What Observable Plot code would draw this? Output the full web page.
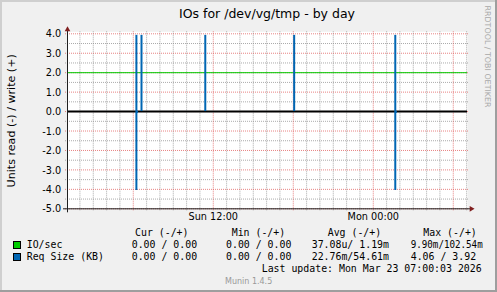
<!DOCTYPE html>
<html><head><meta charset="utf-8">
<script src="https://cdn.jsdelivr.net/npm/d3@7"></script>
<script src="https://cdn.jsdelivr.net/npm/@observablehq/plot@0.6"></script>
<style>
html,body{margin:0;padding:0;background:#F0F0F0}
#wrap{position:relative;width:497px;height:292px;background:#F0F0F0;overflow:hidden}
#wrap > svg{position:absolute;left:0;top:0}
</style></head><body><div id="wrap"></div>
<script>
// ---- data ----
const title = "IOs for /dev/vg/tmp - by day";
const yAxisLabel = "Units read (-) / write (+)";
const timeStart = "2026-03-22T01:04:00Z";
const timeEnd = "2026-03-23T07:04:00Z";
const yTicks = [-5, -4, -3, -2, -1, 0, 1, 2, 3, 4];
const xLabelTimes = ["2026-03-22T12:00:00Z", "2026-03-23T00:00:00Z"];
const xLabelTexts = ["Sun 12:00", "Mon 00:00"];
const writeTimes = ["2026-03-22T06:14:00Z", "2026-03-22T06:37:00Z", "2026-03-22T11:24:00Z", "2026-03-22T18:04:00Z", "2026-03-23T01:39:00Z"];
const reqSizeWrite = [3.92, 3.92, 3.92, 3.92, 3.92];
const readTimes = ["2026-03-22T06:14:00Z", "2026-03-22T06:16:30Z", "2026-03-23T01:39:00Z", "2026-03-23T01:41:30Z"];
const reqSizeRead = [4.06, 0.1, 4.06, 0.1];
const ioLevel = [2.0];
const seriesNames = ["IO/sec", "Req Size (KB)"];
const seriesColors = ["#00CC00", "#0066B3"];
const colHeaders = ["Cur (-/+)", "Min (-/+)", "Avg (-/+)", "Max (-/+)"];
const ioValues = ["0.00 / 0.00", "0.00 / 0.00", "37.08u/ 1.19m", "9.90m/102.54m"];
const reqValues = ["0.00 / 0.00", "0.00 / 0.00", "22.76m/54.61m", "4.06 / 3.92"];
const lastUpdate = "Last update: Mon Mar 23 07:00:03 2026";
const munin = "Munin 1.4.5";
const watermark = "RRDTOOL / TOBI OETIKER";

// ---- build ----
const t0 = new Date(timeStart), t1 = new Date(timeEnd);
const writes = writeTimes.map((t, i) => ({t: new Date(t), v: reqSizeWrite[i]}));
const reads = readTimes.map((t, i) => ({t: new Date(t), v: -reqSizeRead[i]}));
const hours = d3.utcHour.range(t0, t1);
const minorX = hours.filter(d => d.getUTCHours() % 6 !== 0);
const majorX = hours.filter(d => d.getUTCHours() % 6 === 0);
const minorY = d3.range(-4.5, 4, 1);
const labelMap = new Map(xLabelTimes.map((t, i) => [+new Date(t), xLabelTexts[i]]));

const GRID = "#8F8F8F", MGRID = "#DE4F4F";
const chart = Plot.plot({
  width: 497, height: 292,
  marginLeft: 67, marginRight: 30, marginTop: 33.3, marginBottom: 83.7,
  style: {background: "transparent", fontFamily: "DejaVu Sans", fontSize: "9.7px", color: "#000", overflow: "visible"},
  x: {type: "utc", domain: [t0, t1], axis: null},
  y: {domain: [-5, 4], axis: null},
  marks: [
    Plot.frame({fill: "white", stroke: null, insetTop: -2}),
    Plot.ruleX(minorX, {stroke: GRID, strokeOpacity: 0.75, strokeDasharray: "1,1", insetTop: -2, insetBottom: -2}),
    Plot.ruleY(minorY, {stroke: GRID, strokeOpacity: 0.75, strokeDasharray: "1,1", insetLeft: -2, insetRight: -2}),
    Plot.ruleX(majorX, {stroke: MGRID, strokeOpacity: 0.7, strokeDasharray: "1,1", insetTop: -2, insetBottom: -2}),
    Plot.ruleY(yTicks, {stroke: MGRID, strokeOpacity: 0.7, strokeDasharray: "1,1", insetLeft: -2, insetRight: -2}),
    Plot.ruleY(ioLevel, {stroke: seriesColors[0], strokeWidth: 1}),
    Plot.ruleY([0], {stroke: "#000", strokeWidth: 2}),
    Plot.ruleX(writes, {x: "t", y1: 0, y2: "v", stroke: seriesColors[1], strokeWidth: 2}),
    Plot.ruleX(reads, {x: "t", y1: 0, y2: "v", stroke: seriesColors[1], strokeWidth: 2}),
    Plot.ruleX([t0], {stroke: "#1F1F1F", insetTop: -4, insetBottom: -4}),
    Plot.ruleY([-5], {stroke: "#1F1F1F", insetLeft: -4, insetRight: -4}),
    Plot.dot([t0], {x: d => d, y: () => 4, symbol: "triangle", r: 2.1, fill: "#801F1F", stroke: null, dy: -4.3}),
    Plot.dot([t1], {x: d => d, y: () => -5, symbol: "triangle", r: 2.1, fill: "#801F1F", stroke: null, rotate: 90, dx: 3.8}),
    Plot.axisY(yTicks, {tickSize: 0, tickPadding: 6.3, tickFormat: d => d.toFixed(1), fontSize: 9.7, dy: 0.5, label: null}),
    Plot.axisX(xLabelTimes.map(t => new Date(t)), {tickSize: 0, tickPadding: 4.8, tickFormat: d => labelMap.get(+d), fontSize: 9.7, label: null})
  ]
});
const wrap = document.getElementById("wrap");
wrap.appendChild(chart);

// ---- text overlay ----
const svg = d3.select(wrap).append("svg").attr("width", 497).attr("height", 292);
// 3D border
svg.append("rect").attr("x", 0).attr("y", 0).attr("width", 497).attr("height", 2).attr("fill", "#CFCFCF");
svg.append("rect").attr("x", 0).attr("y", 0).attr("width", 2).attr("height", 292).attr("fill", "#CFCFCF");
svg.append("rect").attr("x", 0).attr("y", 290).attr("width", 497).attr("height", 2).attr("fill", "#9E9E9E");
svg.append("rect").attr("x", 495).attr("y", 0).attr("width", 2).attr("height", 292).attr("fill", "#9E9E9E");

svg.append("text").attr("x", 267).attr("y", 17.7).attr("text-anchor", "middle")
  .attr("font-family", "DejaVu Sans").attr("font-size", 12.5).attr("fill", "#000").text(title);
svg.append("text").attr("transform", "translate(14.7,120.8) rotate(-90)").attr("text-anchor", "middle")
  .attr("font-family", "DejaVu Sans").attr("font-size", 11.1).attr("fill", "#000").text(yAxisLabel);
svg.append("text").attr("transform", "translate(485,5.5) rotate(90)").attr("text-anchor", "start")
  .attr("font-family", "DejaVu Sans").attr("font-size", 7.9).attr("fill", "#A8A8A8")
  .attr("textLength", 102).attr("lengthAdjust", "spacing").text(watermark);

const mono = (x, y, s) => svg.append("text").attr("x", x).attr("y", y)
  .attr("font-family", "DejaVu Sans Mono").attr("font-size", 9.9).attr("fill", "#000")
  .style("white-space", "pre").text(s);
const headX = [135, 231.7, 327.7, 423.3];
colHeaders.forEach((h, i) => mono(headX[i], 236.3, h));
const ioX = [131.7, 226, 311.7, 410.7];
mono(26.7, 248.3, seriesNames[0]);
ioValues.forEach((v, i) => {
  const t = mono(ioX[i], 248.3, v);
  if (i === 3) t.attr("textLength", 72).attr("lengthAdjust", "spacingAndGlyphs");
});
const reqX = [131.7, 226, 311.7, 410.7];
mono(26.7, 260.3, seriesNames[1]);
reqValues.forEach((v, i) => mono(reqX[i], 260.3, v));
mono(261.7, 272.3, lastUpdate);
svg.append("text").attr("x", 225).attr("y", 284).attr("font-family", "DejaVu Sans")
  .attr("font-size", 8).attr("fill", "#999").text(munin);
seriesColors.forEach((c, i) => svg.append("rect").attr("x", 13.5).attr("y", 241.5 + 12 * i)
  .attr("width", 7).attr("height", 7).attr("fill", c).attr("stroke", "#000").attr("stroke-width", 1));
</script></body></html>
